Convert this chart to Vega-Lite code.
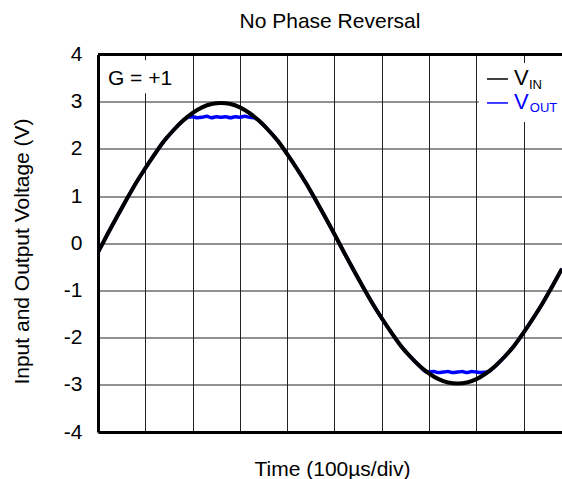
{
  "$schema": "https://vega.github.io/schema/vega-lite/v6.json",
  "width": 464,
  "height": 377.5,
  "autosize": {"type": "none"},
  "padding": {"left": 98, "top": 54.5, "right": 0, "bottom": 47},
  "background": "white",
  "config": {"view": {"stroke": null}, "font": "Liberation Sans"},
  "title": {"text": "No Phase Reversal", "fontSize": 21, "fontWeight": "normal", "color": "black", "font": "Liberation Sans", "offset": 12},
  "datasets": {
    "vin": [
      {"t": 0, "v": -0.19}, {"t": 0.2, "v": 0.19}, {"t": 0.4, "v": 0.56}, {"t": 0.6, "v": 0.92},
      {"t": 0.8, "v": 1.27}, {"t": 1.0, "v": 1.59}, {"t": 1.2, "v": 1.89}, {"t": 1.4, "v": 2.17},
      {"t": 1.6, "v": 2.4}, {"t": 1.8, "v": 2.6}, {"t": 2.0, "v": 2.76}, {"t": 2.2, "v": 2.88},
      {"t": 2.4, "v": 2.95}, {"t": 2.6, "v": 2.97}, {"t": 2.8, "v": 2.95}, {"t": 3.0, "v": 2.88},
      {"t": 3.2, "v": 2.76}, {"t": 3.4, "v": 2.6}, {"t": 3.6, "v": 2.4}, {"t": 3.8, "v": 2.17},
      {"t": 4.0, "v": 1.89}, {"t": 4.2, "v": 1.59}, {"t": 4.4, "v": 1.27}, {"t": 4.6, "v": 0.92},
      {"t": 4.8, "v": 0.56}, {"t": 5.0, "v": 0.19}, {"t": 5.2, "v": -0.19}, {"t": 5.4, "v": -0.56},
      {"t": 5.6, "v": -0.92}, {"t": 5.8, "v": -1.27}, {"t": 6.0, "v": -1.59}, {"t": 6.2, "v": -1.89},
      {"t": 6.4, "v": -2.17}, {"t": 6.6, "v": -2.4}, {"t": 6.8, "v": -2.6}, {"t": 7.0, "v": -2.76},
      {"t": 7.2, "v": -2.88}, {"t": 7.4, "v": -2.95}, {"t": 7.6, "v": -2.97}, {"t": 7.8, "v": -2.95},
      {"t": 8.0, "v": -2.88}, {"t": 8.2, "v": -2.76}, {"t": 8.4, "v": -2.6}, {"t": 8.6, "v": -2.4},
      {"t": 8.8, "v": -2.17}, {"t": 9.0, "v": -1.89}, {"t": 9.2, "v": -1.59}, {"t": 9.4, "v": -1.27},
      {"t": 9.6, "v": -0.92}, {"t": 9.81, "v": -0.54}
    ],
    "vout": [
      {"t": 0, "v": -0.19}, {"t": 0.2, "v": 0.19}, {"t": 0.4, "v": 0.56}, {"t": 0.6, "v": 0.92},
      {"t": 0.8, "v": 1.27}, {"t": 1.0, "v": 1.59}, {"t": 1.2, "v": 1.89}, {"t": 1.4, "v": 2.17},
      {"t": 1.6, "v": 2.4}, {"t": 1.8, "v": 2.6}, {"t": 1.9, "v": 2.67}, {"t": 2.0, "v": 2.68},
      {"t": 2.1, "v": 2.66}, {"t": 2.2, "v": 2.67}, {"t": 2.3, "v": 2.69}, {"t": 2.4, "v": 2.66},
      {"t": 2.5, "v": 2.68}, {"t": 2.6, "v": 2.67}, {"t": 2.7, "v": 2.68}, {"t": 2.8, "v": 2.66},
      {"t": 2.9, "v": 2.68}, {"t": 3.0, "v": 2.67}, {"t": 3.1, "v": 2.69}, {"t": 3.2, "v": 2.67},
      {"t": 3.3, "v": 2.66}, {"t": 3.4, "v": 2.6}, {"t": 3.6, "v": 2.4}, {"t": 3.8, "v": 2.17},
      {"t": 4.0, "v": 1.89}, {"t": 4.2, "v": 1.59}, {"t": 4.4, "v": 1.27}, {"t": 4.6, "v": 0.92},
      {"t": 4.8, "v": 0.56}, {"t": 5.0, "v": 0.19}, {"t": 5.2, "v": -0.19}, {"t": 5.4, "v": -0.56},
      {"t": 5.6, "v": -0.92}, {"t": 5.8, "v": -1.27}, {"t": 6.0, "v": -1.59}, {"t": 6.2, "v": -1.89},
      {"t": 6.4, "v": -2.17}, {"t": 6.6, "v": -2.4}, {"t": 6.8, "v": -2.6}, {"t": 6.96, "v": -2.73},
      {"t": 7.1, "v": -2.72}, {"t": 7.2, "v": -2.74}, {"t": 7.3, "v": -2.73}, {"t": 7.4, "v": -2.72},
      {"t": 7.5, "v": -2.74}, {"t": 7.6, "v": -2.73}, {"t": 7.7, "v": -2.72}, {"t": 7.8, "v": -2.74},
      {"t": 7.9, "v": -2.72}, {"t": 8.0, "v": -2.73}, {"t": 8.1, "v": -2.74}, {"t": 8.24, "v": -2.73},
      {"t": 8.4, "v": -2.6}, {"t": 8.6, "v": -2.4}, {"t": 8.8, "v": -2.17}, {"t": 9.0, "v": -1.89},
      {"t": 9.2, "v": -1.59}, {"t": 9.4, "v": -1.27}, {"t": 9.6, "v": -0.92}, {"t": 9.81, "v": -0.54}
    ],
    "boxes": [
      {"x": 0.15, "x2": 1.65, "y": 3.88, "y2": 3.18},
      {"x": 8.05, "x2": 9.81, "y": 3.82, "y2": 2.57}
    ]
  },
  "layer": [
    {
      "data": {"name": "vout"},
      "mark": {"type": "line", "color": "#0000ff", "strokeWidth": 3.5, "interpolate": "monotone", "clip": true},
      "encoding": {
        "x": {
          "field": "t", "type": "quantitative",
          "scale": {"domain": [0, 9.81], "nice": false, "zero": false},
          "axis": {
            "title": "Time (100µs/div)", "labels": false, "ticks": false,
            "domain": true, "domainColor": "black", "domainWidth": 3,
            "grid": true, "gridColor": "#222222", "gridWidth": 1,
            "values": [1, 2, 3, 4, 5, 6, 7, 8, 9],
            "titleFontSize": 21, "titleFontWeight": "normal", "titleColor": "black",
            "titleX": 234, "titleY": 43, "titleBaseline": "alphabetic", "titleAlign": "center"
          }
        },
        "y": {
          "field": "v", "type": "quantitative",
          "scale": {"domain": [-4, 4], "nice": false, "zero": false},
          "axis": {
            "title": "Input and Output Voltage (V)",
            "values": [-4, -3, -2, -1, 0, 1, 2, 3, 4],
            "labelExpr": "'' + datum.value",
            "ticks": false, "labelPadding": 16, "labelFontSize": 21, "labelColor": "black",
            "domain": true, "domainColor": "black", "domainWidth": 3,
            "grid": true, "gridColor": "#222222", "gridWidth": 1,
            "titleFontSize": 21, "titleFontWeight": "normal", "titleColor": "black",
            "titleX": -76, "titleY": 196.5, "titleAngle": -90, "titleAlign": "center", "titleBaseline": "middle"
          }
        }
      }
    },
    {
      "data": {"name": "vin"},
      "mark": {"type": "line", "color": "black", "strokeWidth": 4, "interpolate": "monotone", "clip": true},
      "encoding": {
        "x": {"field": "t", "type": "quantitative"},
        "y": {"field": "v", "type": "quantitative"}
      }
    },
    {
      "data": {"name": "boxes"},
      "mark": {"type": "rect", "fill": "white", "strokeWidth": 0},
      "encoding": {
        "x": {"field": "x", "type": "quantitative"},
        "x2": {"field": "x2"},
        "y": {"field": "y", "type": "quantitative"},
        "y2": {"field": "y2"}
      }
    },
    {
      "data": {"values": [{}]},
      "mark": {"type": "rule", "color": "black", "strokeWidth": 3},
      "encoding": {"y": {"datum": 4, "type": "quantitative"}}
    },
    {
      "data": {"values": [{}]},
      "mark": {"type": "text", "text": "G = +1", "fontSize": 21, "color": "black", "align": "left", "baseline": "alphabetic"},
      "encoding": {"x": {"datum": 0.21, "type": "quantitative"}, "y": {"datum": 3.354, "type": "quantitative"}}
    },
    {
      "data": {"values": [{}]},
      "mark": {"type": "rule", "color": "black", "strokeWidth": 1.5},
      "encoding": {"x": {"datum": 8.224, "type": "quantitative"}, "x2": {"datum": 8.668}, "y": {"datum": 3.481, "type": "quantitative"}}
    },
    {
      "data": {"values": [{}]},
      "mark": {"type": "rule", "color": "#0000ff", "strokeWidth": 1.5},
      "encoding": {"x": {"datum": 8.224, "type": "quantitative"}, "x2": {"datum": 8.668}, "y": {"datum": 2.973, "type": "quantitative"}}
    },
    {
      "data": {"values": [{}]},
      "mark": {"type": "text", "text": "V", "fontSize": 22, "color": "black", "align": "left", "baseline": "alphabetic"},
      "encoding": {"x": {"datum": 8.795, "type": "quantitative"}, "y": {"datum": 3.354, "type": "quantitative"}}
    },
    {
      "data": {"values": [{}]},
      "mark": {"type": "text", "text": "IN", "fontSize": 13, "color": "black", "align": "left", "baseline": "alphabetic"},
      "encoding": {"x": {"datum": 9.11, "type": "quantitative"}, "y": {"datum": 3.269, "type": "quantitative"}}
    },
    {
      "data": {"values": [{}]},
      "mark": {"type": "text", "text": "V", "fontSize": 22, "color": "#0000ff", "align": "left", "baseline": "alphabetic"},
      "encoding": {"x": {"datum": 8.795, "type": "quantitative"}, "y": {"datum": 2.845, "type": "quantitative"}}
    },
    {
      "data": {"values": [{}]},
      "mark": {"type": "text", "text": "OUT", "fontSize": 13, "color": "#0000ff", "align": "left", "baseline": "alphabetic"},
      "encoding": {"x": {"datum": 9.13, "type": "quantitative"}, "y": {"datum": 2.782, "type": "quantitative"}}
    }
  ]
}
